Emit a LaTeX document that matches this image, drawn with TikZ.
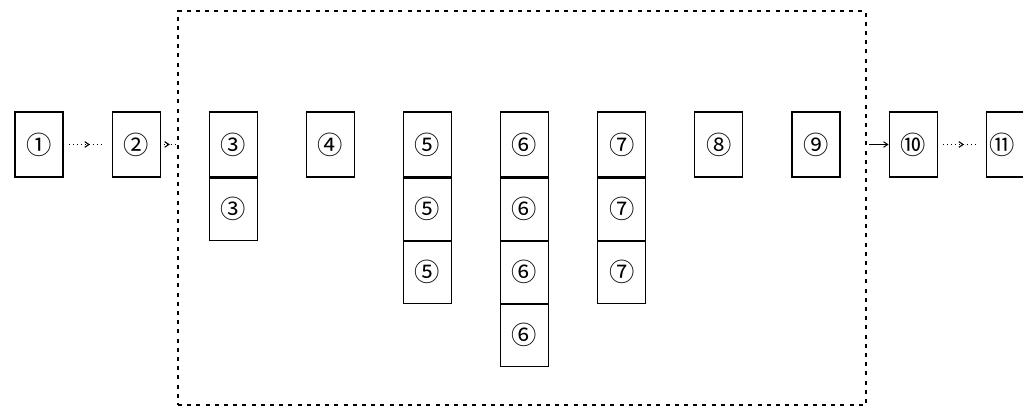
\documentclass[tikz,border=0pt]{standalone}
\usepackage{fontspec}
\newfontfamily\cjk{Noto Sans CJK SC}
\usetikzlibrary{positioning, arrows.meta, decorations.markings}

\begin{document}
\begin{tikzpicture}[
    node distance=0cm and 1.2cm,
    cell/.style={rectangle, draw, line width=0.8pt, minimum width=1.2cm,
        minimum height=1.625cm, inner sep=0pt, font=\cjk\fontsize{18}{18}\selectfont},
    sub/.style={cell, minimum height=1.55cm},
    frame/.style={rectangle, draw, line width=0.9pt, dash pattern=on 0.1cm off 0.13cm,
        minimum width=17.2cm, minimum height=9.85cm, inner sep=0pt},
    link/.style={dotted, line width=0.8pt, postaction={decorate},
        decoration={markings, mark=at position 0.55 with {\arrow{Straight Barb[length=3pt, width=4pt]}}}},
    tip/.style={-{Straight Barb[length=3pt, width=4pt]}, line width=0.7pt}
]
    \useasboundingbox (0,0) rectangle (25.575,10.2);

    % dashed group round steps 3..9
    \node[frame] (group) at (13.05,5.0) {};

    % top row
    \node[cell] (c1) at (0.975,6.5875) {①};
    \node[cell, right=of c1] (c2) {②};
    \node[cell, right=of c2] (c3) {③};
    \node[cell, right=of c3] (c4) {④};
    \node[cell, right=of c4] (c5) {⑤};
    \node[cell, right=of c5] (c6) {⑥};
    \node[cell, right=of c6] (c7) {⑦};
    \node[cell, right=of c7] (c8) {⑧};
    \node[cell, right=of c8] (c9) {⑨};
    \node[cell, right=of c9] (c10) {⑩};
    \node[cell, right=of c10] (c11) {\hspace*{-0.4cm}⑪};

    % stacked cells
    \node[sub, below=of c3] (c3b) {③};
    \node[sub, below=of c5] (c5b) {⑤};
    \node[sub, below=of c5b] (c5c) {⑤};
    \node[sub, below=of c6] (c6b) {⑥};
    \node[sub, below=of c6b] (c6c) {⑥};
    \node[sub, below=of c6c] (c6d) {⑥};
    \node[sub, below=of c7] (c7b) {⑦};
    \node[sub, below=of c7b] (c7c) {⑦};

    % connectors
    \foreach \a/\b in {c1/c2, c10/c11}
        \draw[link, shorten <=4pt, shorten >=6pt] (\a) -- (\b);
    \draw[link, shorten <=2pt] (c2) -- (c2 -| group.west);
    \draw[tip, shorten <=2pt] (c10 -| group.east) -- (c10);
\end{tikzpicture}
\end{document}
